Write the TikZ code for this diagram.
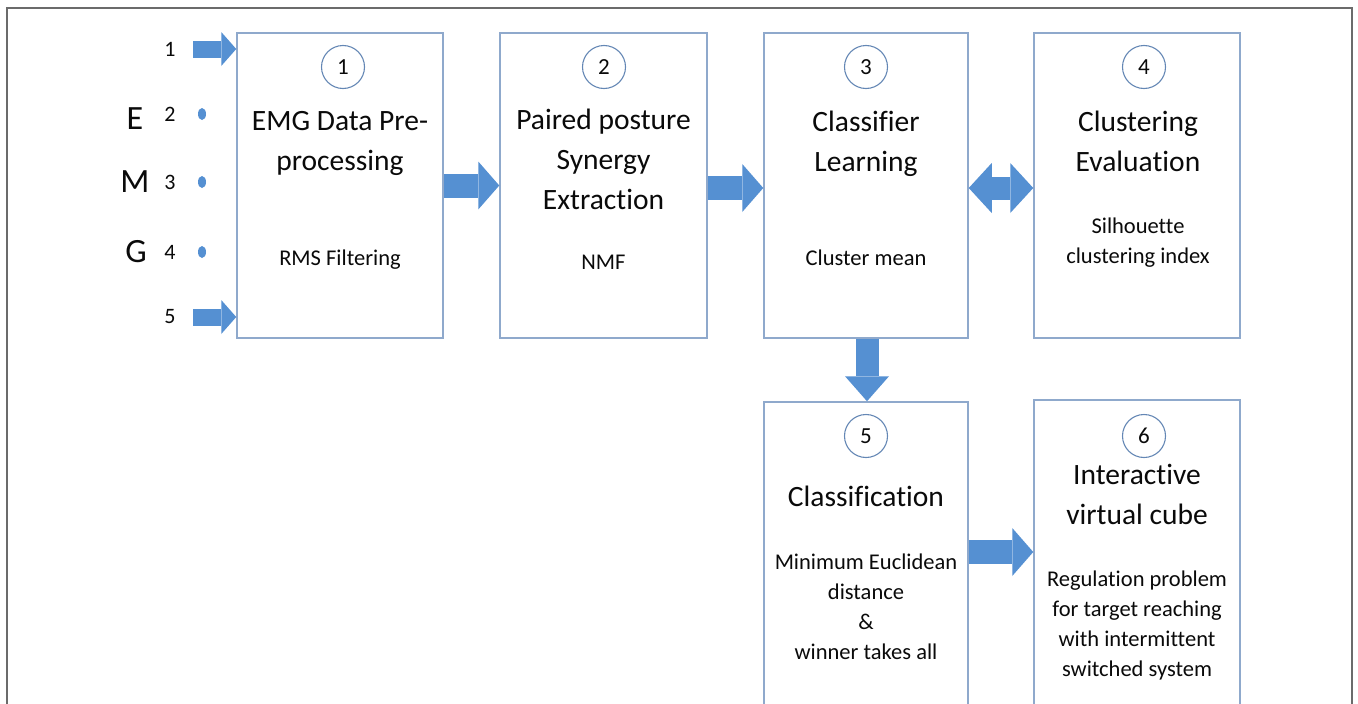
\documentclass[tikz,border=0pt]{standalone}
\usepackage{fontspec}
\setmainfont[Ligatures=NoCommon]{Carlito}
\usetikzlibrary{arrows.meta,shapes.geometric}
\definecolor{arrblue}{HTML}{5590D2}
\definecolor{boxline}{HTML}{8FA9CC}
\definecolor{circline}{HTML}{6487B5}
\definecolor{frameg}{HTML}{6B6B6B}
\definecolor{txt}{HTML}{0A0A0A}
\begin{document}
\begin{tikzpicture}[x=1pt,y=-1pt,
  stepbox/.style={draw=boxline, line width=1.5pt, inner sep=0pt, fill=white},
  numcirc/.style={circle, draw=circline, line width=1.1pt, minimum size=43pt, inner sep=0pt, text=txt, font=\fontsize{23}{23}\selectfont},
  ttl/.style={align=center, text=txt, font=\fontsize{29.5}{40}\selectfont, inner sep=0pt},
  subt/.style={align=center, text=txt, font=\fontsize{22.5}{30}\selectfont, inner sep=0pt},
  bigarrow/.style={draw=arrblue, line width=24pt, -{Triangle[length=21pt,width=48pt,line width=0pt]}},
  dblarrow/.style={draw=arrblue, line width=23pt, {Triangle[length=23pt,width=50pt,line width=0pt]}-{Triangle[length=23pt,width=50pt,line width=0pt]}},
  downarrow/.style={draw=arrblue, line width=23pt, -{Triangle[length=25pt,width=44pt,line width=0pt]}},
  inarrow/.style={draw=arrblue, line width=17pt, -{Triangle[length=15pt,width=34pt,line width=0pt]}},
  emg/.style={text=txt, font=\fontsize{34}{34}\selectfont, inner sep=0pt},
  chan/.style={text=txt, font=\fontsize{22}{22}\selectfont, inner sep=0pt},
  dotmark/.style={ellipse, fill=arrblue, minimum width=8pt, minimum height=12pt, inner sep=0pt}
]
\useasboundingbox (0,0) rectangle (1358,704);
\clip (0,0) rectangle (1358,704);
\fill[white] (0,0) rectangle (1358,704);
\draw[frameg, line width=2pt] (7,730) -- (7,8) -- (1352,8) -- (1352,730);

% boxes
\node[stepbox, minimum width=206pt, minimum height=305pt] (b1) at (340,185.5) {};
\node[stepbox, minimum width=207pt, minimum height=305pt] (b2) at (603.5,185.5) {};
\node[stepbox, minimum width=204pt, minimum height=305pt] (b3) at (866,185.5) {};
\node[stepbox, minimum width=206pt, minimum height=305pt] (b4) at (1137,185.5) {};
\node[stepbox, minimum width=204pt, minimum height=318pt] (b5) at (866,561) {};
\node[stepbox, minimum width=206pt, minimum height=320pt] (b6) at (1137,560) {};

% circles
\node[numcirc] (c1) at (343,67) {1};
\node[numcirc] (c2) at (604,67) {2};
\node[numcirc] (c3) at (866,67) {3};
\node[numcirc] (c4) at (1144,67) {4};
\node[numcirc] (c5) at (866,436) {5};
\node[numcirc] (c6) at (1144,436) {6};

% titles
\node[ttl] (t1) at (340,143) {EMG Data Pre-\\processing};
\node[ttl] (t2) at (603.5,159) {Paired posture\\Synergy\\Extraction};
\node[ttl] (t3) at (866,144) {Classifier\\Learning};
\node[ttl] (t4) at (1138,141) {Clustering\\Evaluation};
\node[ttl] (t5) at (866,496) {Classification};
\node[ttl] (t6) at (1137,494) {Interactive\\virtual cube};

% subtitles
\node[subt] (s1) at (340,260) {RMS Filtering};
\node[subt] (s2) at (603.5,262) {NMF};
\node[subt] (s3) at (866,258) {Cluster mean};
\node[subt] (s4) at (1138,243) {Silhouette\\clustering index};
\node[subt] (s5) at (866,607) {Minimum Euclidean\\distance\\\&\\winner takes all};
\node[subt] (s6) at (1137,625) {Regulation problem\\for target reaching\\with intermittent\\switched system};

% EMG channels
\node[emg] (lE) at (135,119) {E};
\node[emg] (lM) at (135,182) {M};
\node[emg] (lG) at (136,252) {G};
\node[chan] (n1) at (170,49) {1};
\node[chan] (n2) at (170,114) {2};
\node[chan] (n3) at (170,182) {3};
\node[chan] (n4) at (170,252) {4};
\node[chan] (n5) at (170,317) {5};
\node[dotmark] (d2) at (202,114) {};
\node[dotmark] (d3) at (202,182) {};
\node[dotmark] (d4) at (202,252) {};

% input arrows
\coordinate (in1) at (193,49);
\coordinate (in5) at (193,317);
\draw[inarrow] (in1) -- (in1 -| b1.west);
\draw[inarrow] (in5) -- (in5 -| b1.west);

% connectors
\draw[bigarrow] (b1.east) -- (b2.west);
\draw[bigarrow] ([yshift=-2.5pt]b2.east) -- ([yshift=-2.5pt]b3.west);
\draw[dblarrow] ([yshift=-2.5pt]b3.east) -- ([yshift=-2.5pt]b4.west);
\draw[downarrow] (b3.south -| 867,0) -- (b5.north -| 867,0);
\draw[bigarrow] (b5.east |- 0,552) -- (b6.west |- 0,552);
\end{tikzpicture}
\end{document}
